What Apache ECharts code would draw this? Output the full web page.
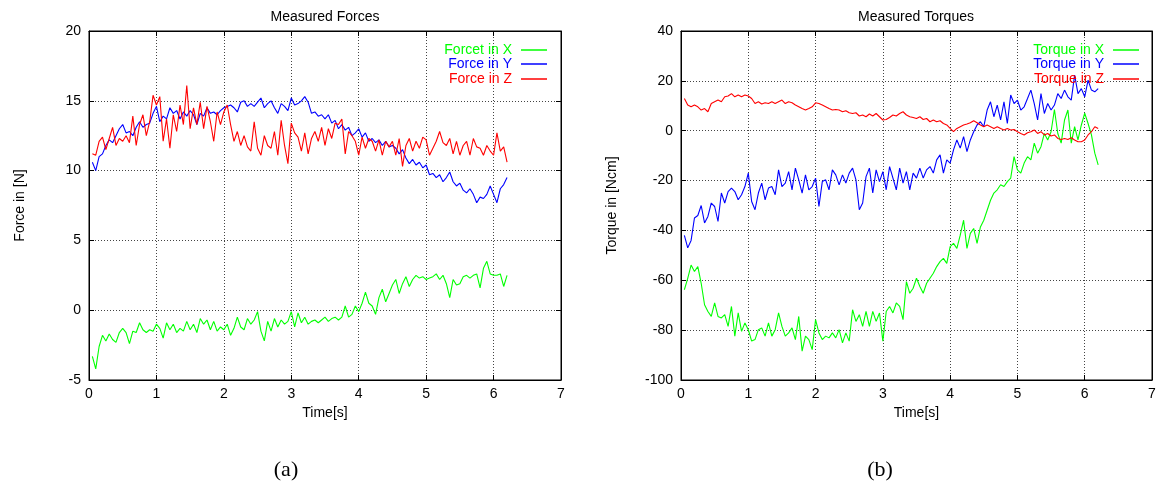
<!DOCTYPE html>
<html>
<head>
<meta charset="utf-8">
<script src="https://cdn.jsdelivr.net/npm/echarts@6/dist/echarts.min.js"></script>
<style>
  html, body { margin: 0; padding: 0; background: #fff; }
  #main { width: 1161px; height: 486px; }
</style>
</head>
<body>
<div id="main"></div>
<script>
// sample times [s]
const times = [
  0.05, 0.1, 0.15, 0.2, 0.25, 0.3, 0.35, 0.4, 0.45, 0.5, 0.55, 0.6, 0.65, 0.7, 0.75, 0.8, 0.85, 0.9, 0.95, 1.0,
  1.05, 1.1, 1.15, 1.2, 1.25, 1.3, 1.35, 1.4, 1.45, 1.5, 1.55, 1.6, 1.65, 1.7, 1.75, 1.8, 1.85, 1.9, 1.95, 2.0,
  2.05, 2.1, 2.15, 2.2, 2.25, 2.3, 2.35, 2.4, 2.45, 2.5, 2.55, 2.6, 2.65, 2.7, 2.75, 2.8, 2.85, 2.9, 2.95, 3.0,
  3.05, 3.1, 3.15, 3.2, 3.25, 3.3, 3.35, 3.4, 3.45, 3.5, 3.55, 3.6, 3.65, 3.7, 3.75, 3.8, 3.85, 3.9, 3.95, 4.0,
  4.05, 4.1, 4.15, 4.2, 4.25, 4.3, 4.35, 4.4, 4.45, 4.5, 4.55, 4.6, 4.65, 4.7, 4.75, 4.8, 4.85, 4.9, 4.95, 5.0,
  5.05, 5.1, 5.15, 5.2, 5.25, 5.3, 5.35, 5.4, 5.45, 5.5, 5.55, 5.6, 5.65, 5.7, 5.75, 5.8, 5.85, 5.9, 5.95, 6.0,
  6.05, 6.1, 6.15, 6.2
];

// forces [N]
const forceX = [
  -3.3, -4.2, -2.6, -1.8, -2.2, -1.7, -2.1, -2.3, -1.6, -1.3, -1.6, -2.4, -1.5, -1.6, -0.9, -1.4, -1.6, -1.4, -1.5, -1.0,
  -1.3, -2.0, -0.9, -1.4, -1.0, -1.6, -1.3, -1.5, -0.8, -1.4, -1.0, -1.6, -0.6, -1.0, -0.7, -1.4, -0.8, -1.5, -1.2, -1.4,
  -1.0, -1.8, -1.3, -0.5, -1.2, -1.4, -0.6, -1.0, -0.7, -0.1, -1.5, -2.2, -0.8, -1.5, -0.6, -1.2, -0.7, -1.0, -0.8, -0.1,
  -1.2, -0.2, -0.9, -0.5, -1.0, -0.8, -0.7, -0.9, -0.7, -0.5, -0.8, -0.6, -0.5, -0.7, -0.5, 0.3, -0.5, -0.3, 0.3, -0.1,
  0.5, 1.3, 0.5, 0.3, -0.3, 0.9, 1.5, 0.6, 1.2, 1.8, 2.2, 1.2, 1.9, 2.4, 1.7, 2.2, 2.5, 2.3, 2.4, 2.2,
  2.3, 2.4, 2.6, 2.2, 2.5, 1.9, 0.9, 2.2, 1.8, 1.9, 2.4, 2.5, 2.3, 2.5, 2.6, 1.6, 3.0, 3.5, 2.6, 2.5,
  2.5, 2.6, 1.7, 2.5
];
const forceY = [
  10.6, 10.0, 11.0, 11.2, 11.8, 12.2, 12.0, 12.5, 13.0, 13.3, 12.7, 12.8, 12.5, 13.1, 13.5, 13.1, 13.3, 13.4, 14.1, 14.6,
  13.5, 13.9, 13.7, 14.5, 14.1, 14.3, 13.7, 14.2, 13.9, 14.3, 14.0, 13.3, 14.1, 13.9, 14.5, 14.1, 14.2, 14.0, 14.3, 14.5,
  14.6, 14.7, 14.5, 14.2, 14.9, 15.0, 14.6, 14.8, 14.6, 14.9, 15.2, 14.5, 14.8, 15.0, 14.5, 14.1, 14.8, 14.6, 14.3, 15.2,
  14.7, 14.8, 15.0, 15.3, 14.9, 14.1, 14.2, 13.9, 14.0, 13.7, 14.0, 13.4, 13.6, 13.0, 13.3, 12.9, 13.1, 12.5, 12.7, 13.0,
  12.4, 12.7, 12.1, 12.3, 12.0, 12.2, 11.8, 12.1, 11.7, 11.8, 11.6, 11.2, 11.5, 10.9, 10.5, 10.8, 10.4, 10.6, 10.2, 10.4,
  9.7, 9.8, 9.5, 9.7, 9.2, 9.5, 9.9, 9.2, 8.9, 9.1, 8.6, 8.4, 8.7, 8.3, 7.7, 8.1, 8.0, 8.3, 8.9, 8.3,
  7.7, 8.7, 9.0, 9.5
];
const forceZ = [
  11.2, 11.1, 12.1, 12.4, 11.5, 12.3, 13.1, 11.8, 12.3, 12.1, 12.5, 12.0, 13.9, 11.8, 13.3, 14.0, 12.5, 13.5, 15.4, 14.7,
  15.3, 12.1, 13.7, 11.6, 14.0, 12.8, 14.7, 13.3, 16.1, 13.0, 14.5, 13.3, 14.9, 13.0, 14.6, 13.5, 12.1, 14.2, 13.3, 14.2,
  14.7, 13.3, 12.1, 12.8, 11.8, 12.5, 11.7, 11.4, 13.5, 11.6, 11.1, 12.5, 11.8, 11.6, 12.8, 11.1, 13.6, 11.8, 10.5, 13.4,
  12.7, 12.4, 11.4, 12.7, 11.2, 12.3, 12.8, 12.1, 13.1, 11.8, 13.0, 12.3, 13.4, 13.3, 13.7, 11.2, 12.8, 12.5, 12.1, 11.1,
  12.4, 11.6, 12.3, 12.1, 11.4, 12.2, 11.1, 12.1, 11.7, 12.1, 11.1, 12.3, 10.3, 11.8, 12.3, 11.4, 12.1, 11.6, 12.4, 12.2,
  11.1, 11.6, 12.1, 12.8, 12.0, 11.8, 12.3, 11.2, 12.1, 11.1, 11.8, 12.1, 11.1, 12.3, 11.7, 11.6, 11.1, 11.8, 11.4, 11.1,
  12.7, 11.4, 11.7, 10.6
];

// torques [Ncm]
const torqueX = [
  -63.8, -59.2, -53.9, -56.5, -54.5, -61.2, -69.8, -72.5, -74.5, -69.1, -74.5, -75.1, -73.8, -78.5, -70.5, -82.4, -73.1, -80.5, -77.1, -79.8,
  -84.4, -83.8, -79.8, -79.1, -82.4, -77.1, -82.4, -79.8, -73.1, -78.5, -82.4, -81.1, -79.1, -83.8, -74.5, -88.4, -82.4, -83.8, -87.8, -75.8,
  -81.1, -83.8, -82.4, -83.1, -81.1, -83.1, -79.8, -85.1, -81.1, -84.4, -71.8, -76.5, -73.8, -78.5, -72.5, -78.5, -72.5, -76.5, -73.1, -84.4,
  -72.5, -70.5, -73.1, -69.1, -70.5, -75.8, -60.5, -65.2, -63.2, -59.2, -62.5, -65.2, -61.2, -59.2, -57.2, -54.5, -52.5, -51.2, -53.2, -46.5,
  -45.2, -47.2, -41.9, -35.9, -47.2, -41.2, -39.2, -45.2, -38.6, -35.9, -31.9, -27.9, -25.0, -23.7, -21.7, -22.4, -20.4, -19.0, -10.4, -15.7,
  -17.0, -13.0, -10.4, -11.7, -5.0, -9.0, -6.4, -1.1, -3.7, -0.4, 8.5, -1.1, -5.0, 4.3, 8.3, -5.0, 1.6, -3.7, 2.3, 7.0,
  2.9, -1.7, -9.0, -13.7
];
const torqueY = [
  -42.0, -47.0, -44.0, -35.0, -34.0, -30.0, -37.0, -34.4, -29.0, -30.4, -36.4, -25.0, -29.0, -24.4, -23.0, -24.4, -27.7, -25.7, -22.4, -17.0,
  -28.4, -31.7, -25.0, -21.0, -27.7, -23.0, -22.4, -25.7, -15.7, -22.4, -21.0, -16.4, -23.7, -15.0, -19.7, -25.0, -17.7, -23.7, -22.4, -19.0,
  -30.4, -20.4, -19.7, -23.7, -15.7, -17.7, -21.7, -17.7, -21.0, -17.0, -15.0, -19.7, -31.7, -29.0, -18.4, -15.0, -25.0, -15.7, -20.4, -16.4,
  -23.7, -14.4, -19.0, -23.7, -15.0, -21.0, -16.4, -23.7, -17.0, -19.0, -15.0, -19.0, -15.7, -14.4, -17.0, -11.7, -9.7, -17.0, -11.7, -13.0,
  -7.7, -3.7, -7.0, -2.4, -8.4, -3.7, -0.4, 2.3, 3.6, 1.6, 8.3, 11.6, 5.6, 10.3, 4.3, 11.6, 2.9, 14.3, 10.9, 12.3,
  8.3, 9.6, 12.9, 16.3, 10.9, 4.3, 14.9, 6.9, 10.9, 8.3, 10.3, 14.9, 12.9, 16.3, 13.6, 12.3, 22.3, 14.9, 16.9, 13.6,
  20.3, 16.3, 15.6, 16.9
];
const torqueZ = [
  12.9, 10.3, 9.6, 10.3, 9.6, 8.3, 8.9, 7.6, 10.9, 11.6, 12.3, 11.6, 13.6, 13.9, 14.9, 13.6, 14.3, 13.6, 14.3, 13.9,
  12.9, 10.9, 11.6, 10.7, 11.2, 10.9, 11.6, 10.9, 11.6, 12.3, 10.9, 11.6, 11.2, 10.3, 9.6, 8.9, 8.3, 8.9, 9.6, 11.2,
  10.9, 10.3, 9.6, 8.9, 8.3, 8.5, 8.3, 7.6, 8.0, 7.2, 6.9, 7.2, 5.9, 6.3, 5.6, 6.7, 5.9, 6.9, 5.6, 4.3,
  4.5, 5.3, 6.3, 5.9, 6.9, 7.6, 6.3, 5.6, 5.3, 4.9, 5.6, 4.5, 4.9, 3.6, 4.3, 3.6, 4.0, 2.9, 2.3, 0.9,
  -0.4, 0.9, 1.6, 2.3, 2.7, 3.2, 4.0, 3.2, 2.3, 1.6, 2.3, 1.6, 0.9, 1.6, 0.9, 0.3, 0.9, 0.3, 0.5, -0.4,
  -1.1, -1.7, -0.8, -0.4, 0.3, -1.1, -0.4, -1.7, -1.1, -2.1, -1.7, -3.1, -3.5, -3.1, -3.5, -2.8, -3.7, -4.4, -4.4, -3.7,
  -1.7, -0.4, 1.6, 0.9
];

const FONT = 'Liberation Sans';
const GREEN = '#00ff00', BLUE = '#0000ff', RED = '#ff0000';

const pairs = (vals) => vals.map((v, i) => [times[i], v]);

const splitStyle = { show: true, lineStyle: { color: '#444', type: [1, 2], width: 1 } };

const mainX = (grid, name) => ({
    type: 'value', gridIndex: grid, min: 0, max: 7, interval: 1,
    name: name, nameLocation: 'middle', nameGap: 22,
    nameTextStyle: { fontFamily: FONT, fontSize: 14, color: '#000' },
    axisLine: { onZero: false, lineStyle: { color: '#000' } },
    axisTick: { inside: true, length: 5, lineStyle: { color: '#000' } },
    axisLabel: { fontFamily: FONT, fontSize: 14, color: '#000', margin: 7 },
    splitLine: splitStyle
});
const mirrorX = (grid) => ({
    type: 'value', gridIndex: grid, position: 'top', min: 0, max: 7, interval: 1,
    axisLine: { onZero: false, lineStyle: { color: '#000' } },
    axisTick: { inside: true, length: 5, lineStyle: { color: '#000' } },
    axisLabel: { show: false }, splitLine: { show: false }
});
const mainY = (grid, name, min, max, step) => ({
    type: 'value', gridIndex: grid, min: min, max: max, interval: step,
    name: name, nameLocation: 'middle', nameGap: 62,
    nameTextStyle: { fontFamily: FONT, fontSize: 14, color: '#000' },
    axisLine: { show: true, onZero: false, lineStyle: { color: '#000' } },
    axisTick: { show: true, inside: true, length: 5, lineStyle: { color: '#000' } },
    axisLabel: { fontFamily: FONT, fontSize: 14, color: '#000', margin: 8 },
    splitLine: splitStyle
});
const mirrorY = (grid, min, max, step) => ({
    type: 'value', gridIndex: grid, position: 'right', min: min, max: max, interval: step,
    axisLine: { show: true, onZero: false, lineStyle: { color: '#000' } },
    axisTick: { show: true, inside: true, length: 5, lineStyle: { color: '#000' } },
    axisLabel: { show: false }, splitLine: { show: false }
});

const line = (name, color, vals, ax) => ({
    name: name, type: 'line', data: pairs(vals),
    xAxisIndex: ax, yAxisIndex: ax,
    showSymbol: false, symbol: 'none',
    lineStyle: { color: color, width: 1.1 }, itemStyle: { color: color },
    emphasis: { disabled: true }
});

const legendItem = (name, color, top, right) => ({
    data: [name], top: top, right: right, orient: 'vertical', align: 'right',
    icon: 'rect', itemWidth: 26, itemHeight: 1.5, padding: 0,
    textStyle: { fontFamily: FONT, fontSize: 14, color: color, padding: [0, 4, 0, 0] }
});

var chartDom = document.getElementById('main');
var myChart = echarts.init(chartDom);

var option = {
    animation: false,
    backgroundColor: '#fff',
    title: [
        { text: 'Measured Forces', left: 325, top: 10, textAlign: 'center', padding: 0,
          textStyle: { fontFamily: FONT, fontSize: 14, fontWeight: 'normal', color: '#000' } },
        { text: 'Measured Torques', left: 916, top: 10, textAlign: 'center', padding: 0,
          textStyle: { fontFamily: FONT, fontSize: 14, fontWeight: 'normal', color: '#000' } }
    ],
    legend: [
        legendItem('Forcet in X', GREEN, 43, 614),
        legendItem('Force in Y', BLUE, 57, 614),
        legendItem('Force in Z', RED, 72, 614),
        legendItem('Torque in X', GREEN, 43, 22),
        legendItem('Torque in Y', BLUE, 57, 22),
        legendItem('Torque in Z', RED, 72, 22)
    ],
    grid: [
        { left: 89, top: 31, width: 472, height: 349, show: true, borderColor: '#000', borderWidth: 1 },
        { left: 681, top: 31, width: 471, height: 349, show: true, borderColor: '#000', borderWidth: 1 }
    ],
    xAxis: [mainX(0, 'Time[s]'), mirrorX(0), mainX(1, 'Time[s]'), mirrorX(1)],
    yAxis: [
        mainY(0, 'Force in [N]', -5, 20, 5), mirrorY(0, -5, 20, 5),
        mainY(1, 'Torque in [Ncm]', -100, 40, 20), mirrorY(1, -100, 40, 20)
    ],
    series: [
        line('Forcet in X', GREEN, forceX, 0),
        line('Force in Y', BLUE, forceY, 0),
        line('Force in Z', RED, forceZ, 0),
        line('Torque in X', GREEN, torqueX, 2),
        line('Torque in Y', BLUE, torqueY, 2),
        line('Torque in Z', RED, torqueZ, 2)
    ],
    graphic: [
        { type: 'text', x: 286, y: 470,
          style: { text: '(a)', fontFamily: 'Liberation Serif', fontSize: 22, fill: '#000', align: 'center', verticalAlign: 'middle' } },
        { type: 'text', x: 880, y: 470,
          style: { text: '(b)', fontFamily: 'Liberation Serif', fontSize: 22, fill: '#000', align: 'center', verticalAlign: 'middle' } }
    ]
};

option && myChart.setOption(option);
</script>
</body>
</html>
